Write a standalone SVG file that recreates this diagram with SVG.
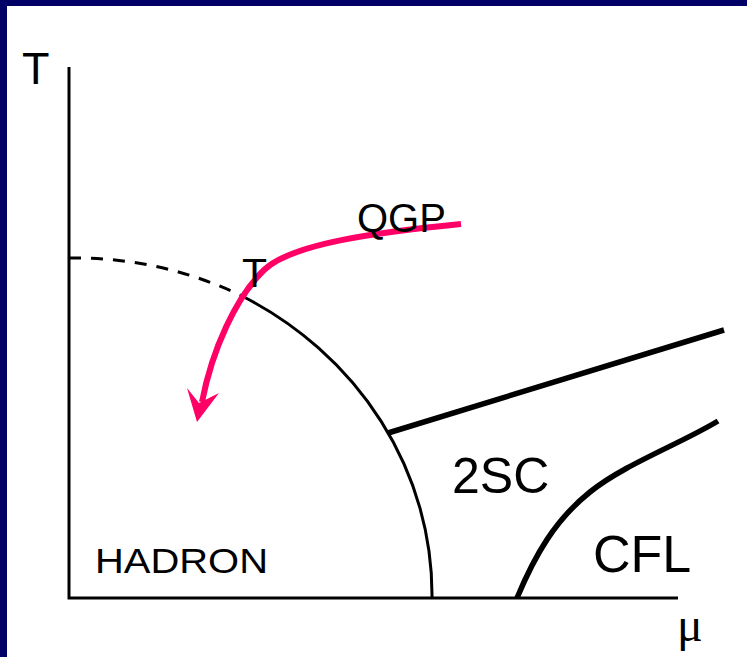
<svg xmlns="http://www.w3.org/2000/svg" width="747" height="657" viewBox="0 0 747 657">
<style>
.ax{fill:none;stroke:#000;stroke-width:3}
.ln{fill:none;stroke:#000;stroke-width:3}
.thick{fill:none;stroke:#000;stroke-width:5.5}
.lbl{font-family:"Liberation Sans",Arial,sans-serif;fill:#000}
.pink{fill:none;stroke:#ff0066;stroke-width:6;stroke-linecap:butt}
</style>
<rect x="0" y="0" width="747" height="657" fill="#000066"/>
<rect x="7" y="6" width="740" height="651" fill="#fff"/>
<g id="axes">
<path class="ax" d="M69,67 V598 H678"/>
<text class="lbl" x="22" y="84" font-size="45">T</text>
<text x="677" y="641" font-size="48" font-family="'Liberation Serif','Times New Roman',serif">μ</text>
</g>
<g id="connectors">
<path class="ln" d="M69,258 A363,340 0 0 1 240,295" stroke-width="3.5" stroke-dasharray="12,10"/>
<path class="ln" d="M240,295 A363,340 0 0 1 432,598"/>
<path class="thick" d="M388,433 L724,330"/>
<path class="thick" d="M517,598 C535,555 555,520 590,492 C625,464 680,444 718,421"/>
<path class="pink" d="M461,224 C380,232 292,243 264,270 C236,297 212,350 202,402"/>
<path fill="#ff0066" d="M197,422 L187,388 L199,403 L219,393 Z"/>
</g>
<g id="labels">
<text class="lbl" x="357" y="232" font-size="40">QGP</text>
<text class="lbl" x="242" y="287" font-size="41">T</text>
<text class="lbl" x="95" y="573" font-size="35" textLength="173" lengthAdjust="spacingAndGlyphs">HADRON</text>
<text class="lbl" x="452" y="493" font-size="50">2SC</text>
<text class="lbl" x="593" y="572" font-size="52">CFL</text>
</g>
</svg>
